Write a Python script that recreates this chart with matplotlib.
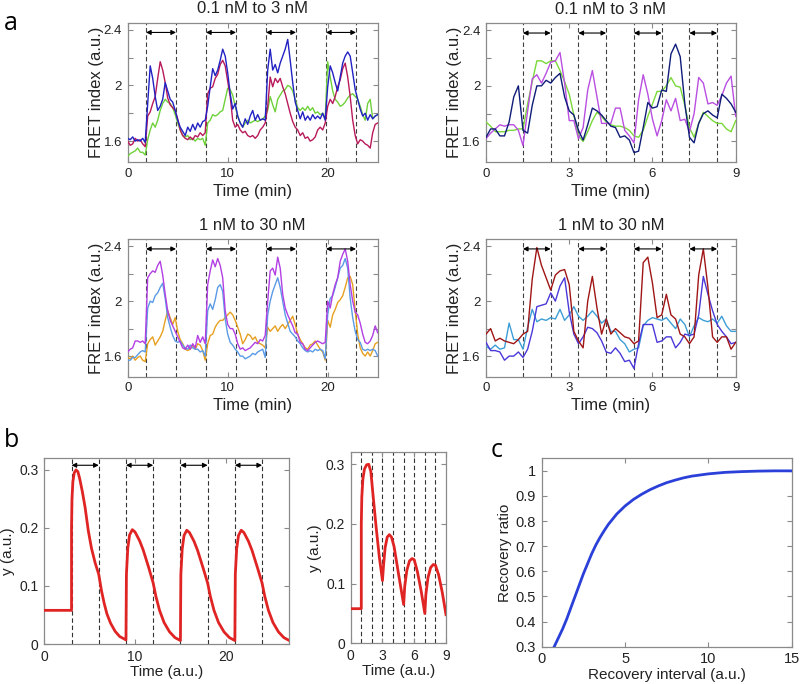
import numpy as np
import matplotlib
matplotlib.use("Agg")
import matplotlib.pyplot as plt

plt.rcParams['font.family'] = ['Liberation Sans', 'DejaVu Sans']

# ---------------- Data: panel a (left column, 0.25-min sampling) ----------------
t_long = np.arange(0, 25.001, 0.25)
pulse_long = [1.83, 7.83, 13.83, 19.83]   # pulse starts (min), width 3 min
pulse_long_w = 3.0

tl_blue = [1.62,1.61,1.63,1.60,1.61,1.60,1.62,1.59,
           1.87,2.14,2.05,1.92,1.82,1.85,1.90,2.02,1.96,1.90,1.88,1.82,1.75,1.70,1.67,1.64,1.70,1.67,1.72,1.68,1.73,1.70,1.74,1.75,
           1.85,1.99,2.12,2.07,2.11,2.18,2.26,2.21,2.09,1.94,1.83,1.87,1.78,1.73,1.70,1.76,1.72,1.78,1.82,1.75,1.79,1.75,1.76,1.75,
           2.11,2.26,2.11,2.15,2.09,2.16,2.21,2.26,2.33,2.18,2.02,1.88,1.82,1.76,1.81,1.75,1.78,1.75,1.79,1.76,1.78,1.76,1.80,1.75,
           1.99,2.14,2.09,2.02,1.96,2.06,2.16,2.21,2.24,2.21,2.09,1.97,1.90,1.83,1.78,1.80,1.75,1.79,1.76,1.78,1.79]
tl_crimson = [1.60,1.57,1.58,1.62,1.60,1.61,1.58,1.56,
              1.78,1.81,1.87,1.92,2.05,2.17,2.11,2.02,1.91,1.86,1.84,1.82,1.76,1.68,1.64,1.62,1.61,1.63,1.61,1.64,1.63,1.66,1.64,1.66,
              1.94,1.98,1.99,2.05,2.08,2.15,2.18,2.14,2.03,1.92,1.75,1.70,1.72,1.68,1.66,1.67,1.64,1.63,1.64,1.62,1.64,1.68,1.70,1.73,
              1.85,2.06,1.99,2.05,2.02,2.05,1.99,1.94,1.87,1.80,1.74,1.70,1.68,1.64,1.66,1.62,1.63,1.60,1.61,1.63,1.68,1.70,1.68,1.73,
              1.85,1.90,1.87,1.92,1.99,2.04,2.12,2.16,2.06,1.92,1.75,1.64,1.58,1.61,1.60,1.58,1.57,1.55,1.66,1.72,1.73]
tl_green = [1.49,1.51,1.52,1.53,1.55,1.52,1.52,1.50,
            1.61,1.68,1.73,1.70,1.75,1.82,1.87,1.90,1.88,1.87,1.84,1.79,1.73,1.68,1.64,1.63,1.64,1.61,1.62,1.60,1.62,1.61,1.62,1.57,
            1.73,1.75,1.79,1.78,1.79,1.81,1.82,1.90,1.98,1.97,1.93,1.85,1.78,1.73,1.70,1.73,1.75,1.73,1.74,1.75,1.74,1.75,1.76,1.78,
            1.82,1.92,1.86,1.81,1.90,1.93,1.96,1.97,2.00,1.99,1.96,1.90,1.84,1.82,1.84,1.82,1.85,1.82,1.84,1.80,1.81,1.79,1.80,1.76,
            2.17,2.06,1.96,1.90,1.88,1.85,1.86,1.88,1.91,1.93,1.94,1.92,1.90,1.85,1.79,1.75,1.87,1.90,1.76,1.78,1.79]

bl_purple = [1.63,1.65,1.66,1.71,1.71,1.70,1.71,1.69,
             2.17,2.20,2.22,2.21,2.26,2.29,2.19,2.05,1.93,1.86,1.82,1.78,1.74,1.70,1.66,1.65,1.68,1.65,1.69,1.66,1.75,1.70,1.74,1.69,
             2.12,2.22,2.30,2.25,2.31,2.26,2.17,1.93,1.83,1.80,1.80,1.76,1.69,1.65,1.66,1.64,1.65,1.66,1.68,1.70,1.69,1.72,1.71,1.75,
             2.00,2.22,2.24,2.19,2.32,2.24,2.05,1.95,1.90,1.86,1.82,1.77,1.76,1.70,1.69,1.65,1.64,1.66,1.68,1.70,1.71,1.70,1.69,1.70,
             2.00,1.95,2.05,2.12,2.17,2.29,2.34,2.38,2.29,2.12,2.00,1.92,1.90,1.84,1.76,1.70,1.69,1.71,1.75,1.82,1.77]
bl_lblue = [1.57,1.57,1.59,1.59,1.61,1.63,1.64,1.63,
            1.95,2.00,1.99,2.04,2.06,2.10,2.13,2.02,1.88,1.81,1.75,1.71,1.70,1.71,1.68,1.66,1.65,1.68,1.66,1.65,1.65,1.63,1.64,1.60,
            1.93,1.98,1.94,2.01,2.10,2.12,2.07,1.87,1.76,1.70,1.68,1.65,1.63,1.60,1.60,1.58,1.59,1.60,1.62,1.61,1.63,1.64,1.65,1.59,
            1.90,2.00,2.07,2.12,2.17,2.10,2.00,1.90,1.84,1.78,1.76,1.74,1.71,1.69,1.66,1.64,1.63,1.64,1.63,1.65,1.64,1.65,1.64,1.58,
            1.90,2.02,2.04,2.10,2.17,2.24,2.26,2.31,2.24,2.02,1.88,1.78,1.72,1.70,1.65,1.64,1.65,1.64,1.65,1.64,1.60]
bl_orange = [1.59,1.58,1.60,1.57,1.59,1.60,1.57,1.56,
             1.69,1.72,1.74,1.68,1.71,1.74,1.78,1.86,1.93,1.88,1.83,1.88,1.78,1.72,1.69,1.65,1.64,1.65,1.68,1.65,1.69,1.68,1.64,1.57,
             1.69,1.75,1.76,1.81,1.84,1.86,1.86,1.88,1.90,1.92,1.90,1.86,1.81,1.76,1.69,1.72,1.76,1.75,1.72,1.74,1.70,1.69,1.68,1.66,
             1.81,1.78,1.80,1.82,1.78,1.81,1.83,1.80,1.83,1.86,1.89,1.83,1.76,1.72,1.69,1.66,1.65,1.68,1.69,1.71,1.68,1.65,1.63,1.57,
             1.86,1.81,1.90,1.94,1.99,2.01,2.04,2.10,2.17,2.18,2.12,1.93,1.76,1.66,1.62,1.60,1.63,1.60,1.64,1.69,1.70]

# ---------------- Data: panel a (right column, 10-s sampling) ----------------
t_short = np.arange(55) / 6.0
pulse_short = [1.33, 3.33, 5.33, 7.33]    # pulse starts (min), width 1 min
pulse_short_w = 1.0

tr_navy = [1.63,1.69,1.69,1.64,1.64,1.74,1.92,2.00,1.68,1.66,1.86,2.00,2.00,2.04,2.02,2.06,2.09,1.92,1.82,1.79,
           1.68,1.61,1.72,1.84,1.82,1.79,1.75,1.71,1.70,1.63,1.64,1.61,1.52,1.53,1.70,1.88,1.84,1.85,1.97,1.96,
           2.23,2.30,2.21,1.87,1.63,1.59,1.73,1.80,1.82,1.79,1.77,1.94,1.91,1.87,1.81]
tr_green = [1.74,1.71,1.67,1.67,1.67,1.68,1.68,1.69,1.69,1.87,2.03,2.18,2.18,2.16,2.18,2.18,2.11,2.03,1.94,1.79,
            1.64,1.60,1.67,1.75,1.81,1.78,1.74,1.72,1.71,1.71,1.70,1.68,1.64,1.63,1.68,1.78,1.87,1.96,1.96,2.00,
            2.06,2.00,1.99,1.86,1.70,1.63,1.73,1.81,1.78,1.75,1.73,1.73,1.69,1.67,1.75]
tr_magenta = [1.62,1.66,1.69,1.72,1.71,1.72,1.72,1.68,1.57,1.82,2.05,2.08,2.02,2.09,2.17,2.18,2.24,2.02,1.75,1.75,
              1.62,1.70,1.97,2.11,1.92,1.73,1.73,1.73,1.84,1.84,1.68,1.64,1.59,1.90,2.08,1.94,1.76,1.64,1.75,1.90,
              1.82,1.91,1.75,1.76,1.67,1.80,2.06,2.02,1.87,1.88,1.86,1.93,2.02,2.07,1.78]

br_darkred = [1.76,1.80,1.71,1.73,1.71,1.70,1.69,1.72,1.76,1.78,2.16,2.39,2.26,2.17,2.08,2.19,2.22,2.23,2.12,1.78,
              1.71,1.66,2.00,2.18,1.95,1.76,1.87,1.76,1.80,1.77,1.74,1.73,1.69,1.71,2.28,2.32,2.13,1.88,1.90,2.05,
              1.90,1.87,1.76,1.74,1.69,1.74,2.19,2.38,2.10,1.74,1.70,1.74,1.74,1.65,1.70]
br_violet = [1.70,1.64,1.64,1.63,1.57,1.60,1.60,1.63,1.59,1.65,1.78,1.96,1.97,1.98,2.06,2.00,2.11,2.17,1.92,1.76,
             1.69,1.74,1.81,1.80,1.77,1.71,1.63,1.62,1.66,1.62,1.56,1.57,1.51,1.69,1.83,1.83,1.83,1.70,1.71,1.74,
             1.74,1.66,1.70,1.76,1.75,1.76,1.90,2.18,2.05,1.93,1.83,1.78,1.74,1.69,1.70]
br_sky = [1.67,1.65,1.68,1.65,1.66,1.84,1.72,1.72,1.65,1.81,1.94,1.85,1.87,1.86,1.88,1.87,1.94,1.86,1.90,1.96,
          1.89,1.86,1.89,1.93,1.89,1.84,1.87,1.78,1.78,1.72,1.69,1.63,1.65,1.66,1.82,1.86,1.88,1.87,1.86,1.88,
          1.84,1.80,1.87,1.83,1.74,1.82,1.88,1.86,1.85,1.87,1.84,1.89,1.82,1.78,1.78]

# ---------------- Data: panel b ----------------
tb1 = [0, 3.0, 3.0, 3.05, 3.15, 3.3, 3.5, 3.7, 3.9, 4.2, 4.5, 4.85, 5.2, 5.6, 6.0,
       6.3, 6.6, 6.9, 7.3, 7.8, 8.3, 9.0,
       9.0, 9.05, 9.2, 9.4, 9.7, 10.0, 10.5, 10.9, 11.5, 12.0,
       12.3, 12.7, 13.2, 13.8, 14.4, 15.0,
       15.0, 15.05, 15.2, 15.4, 15.7, 16.0, 16.5, 16.9, 17.5, 18.0,
       18.3, 18.7, 19.2, 19.8, 20.4, 21.0,
       21.0, 21.05, 21.2, 21.4, 21.7, 22.0, 22.5, 22.9, 23.5, 24.0,
       24.3, 24.7, 25.2, 25.8, 26.4, 27.0]
yb1 = [0.058, 0.058, 0.20, 0.25, 0.28, 0.295, 0.300, 0.297, 0.285, 0.262, 0.235, 0.195, 0.165, 0.140, 0.120,
       0.092, 0.070, 0.052, 0.036, 0.022, 0.013, 0.007,
       0.007, 0.12, 0.165, 0.188, 0.197, 0.193, 0.178, 0.162, 0.132, 0.105,
       0.082, 0.058, 0.037, 0.021, 0.011, 0.006,
       0.006, 0.12, 0.164, 0.187, 0.196, 0.192, 0.177, 0.161, 0.131, 0.105,
       0.082, 0.058, 0.037, 0.021, 0.011, 0.006,
       0.006, 0.12, 0.164, 0.187, 0.196, 0.192, 0.177, 0.161, 0.131, 0.105,
       0.082, 0.058, 0.037, 0.021, 0.011, 0.006]
pulse_b1 = [3, 9, 15, 21]
pulse_b1_w = 3.0

tb2 = [0, 1.0, 1.0, 1.05, 1.15, 1.3, 1.5, 1.7, 1.9, 2.1, 2.4, 2.7, 3.0,
       3.1, 3.25, 3.45, 3.65, 3.85, 4.1, 4.5, 5.0,
       5.1, 5.3, 5.55, 5.8, 6.0, 6.3, 6.65, 7.0,
       7.1, 7.3, 7.55, 7.8, 8.0, 8.3, 8.65, 9.0]
yb2 = [0.058, 0.058, 0.20, 0.245, 0.275, 0.292, 0.299, 0.300, 0.288, 0.250, 0.195, 0.145, 0.105,
       0.130, 0.160, 0.178, 0.182, 0.178, 0.162, 0.118, 0.065,
       0.095, 0.122, 0.138, 0.142, 0.140, 0.120, 0.088, 0.050,
       0.082, 0.110, 0.127, 0.132, 0.131, 0.115, 0.085, 0.048]
dash_b2 = [1, 2, 3, 4, 5, 6, 7, 8]

# ---------------- Data: panel c ----------------
xc = [0.75, 1.0, 1.25, 1.5, 1.75, 2.0, 2.25, 2.5, 2.75, 3.0, 3.25, 3.5, 3.75, 4.0, 4.5, 5.0, 5.5,
      6.0, 6.5, 7.0, 7.5, 8.0, 8.5, 9.0, 10.0, 11.0, 12.0, 13.0, 14.0, 15.0]
yc = [0.30, 0.335, 0.37, 0.41, 0.455, 0.50, 0.545, 0.59, 0.63, 0.67, 0.705, 0.735, 0.762, 0.787, 0.828, 0.86, 0.886,
      0.907, 0.925, 0.94, 0.953, 0.963, 0.972, 0.979, 0.988, 0.994, 0.997, 0.999, 1.0, 1.0]

# ---------------- Figure ----------------
W, H = 802, 684
fig = plt.figure(figsize=(W / 100, H / 100), dpi=100)

def box(l, t, r, b):
    return [l / W, 1 - b / H, (r - l) / W, (b - t) / H]

SPINE = '#8a8a8a'
TXT = '#222222'

def style(ax, fs=9.5):
    for s in ax.spines.values():
        s.set_color(SPINE)
        s.set_linewidth(0.9)
    ax.tick_params(direction='in', top=True, right=True, length=3.5, width=0.8,
                   color=SPINE, labelcolor=TXT, labelsize=fs, pad=4)

def dashes(ax, xs, color='0.25'):
    for x in xs:
        ax.axvline(x, color=color, lw=0.8, ls=(0, (4, 2.5)), zorder=1)

def arrows(ax, starts, w, y):
    for s in starts:
        ax.annotate('', xy=(s + w, y), xytext=(s, y),
                    arrowprops=dict(arrowstyle='<|-|>', color='k', lw=0.8,
                                    mutation_scale=7, shrinkA=0, shrinkB=0),
                    zorder=5)

def panel_a(rect, t, series, colors, starts, w, xlim, xticks, title, xlabel=True):
    ax = fig.add_axes(rect)
    edges = []
    for s in starts:
        edges += [s, s + w]
    dashes(ax, edges)
    for y, c in zip(series, colors):
        ax.plot(t, y, color=c, lw=1.0, zorder=3)
    arrows(ax, starts, w, 2.38)
    ax.set_xlim(*xlim)
    ax.set_ylim(1.45, 2.45)
    ax.set_xticks(xticks)
    ax.set_yticks([1.6, 1.8, 2.0, 2.2, 2.4])
    ax.set_yticklabels(['1.6', '', '2', '', '2.4'])
    style(ax, 9.5)
    ax.set_title(title, fontsize=12, color=TXT, pad=7)
    ax.set_ylabel('FRET index (a.u.)', fontsize=12, color=TXT, labelpad=0)
    if xlabel:
        ax.set_xlabel('Time (min)', fontsize=12, color=TXT, labelpad=3)
    return ax

c_tl = ['#6fd13a', '#b8195a', '#2222c4']
c_tr = ['#7ad83a', '#b94ee0', '#0f1c78']
c_bl = ['#e6a020', '#5a9ae6', '#b23fe3']
c_br = ['#3d9ed6', '#4a38d8', '#a01515']

panel_a(box(127.7, 22.7, 377.7, 162.0), t_long, [tl_green, tl_crimson, tl_blue], c_tl,
        pulse_long, pulse_long_w, (0, 25), [0, 10, 20], '0.1 nM to 3 nM')
panel_a(box(486.0, 23.3, 735.7, 162.3), t_short, [tr_green, tr_magenta, tr_navy], c_tr,
        pulse_short, pulse_short_w, (0, 9), [0, 3, 6, 9], '0.1 nM to 3 nM')
panel_a(box(127.7, 239.3, 377.7, 376.7), t_long, [bl_orange, bl_lblue, bl_purple], c_bl,
        pulse_long, pulse_long_w, (0, 25), [0, 10, 20], '1 nM to 30 nM')
panel_a(box(486.0, 239.3, 735.7, 376.7), t_short, [br_sky, br_violet, br_darkred], c_br,
        pulse_short, pulse_short_w, (0, 9), [0, 3, 6, 9], '1 nM to 30 nM')

# panel b left
ax = fig.add_axes(box(44.3, 458.3, 289.3, 644.0))
edges = []
for s in pulse_b1:
    edges += [s, s + pulse_b1_w]
dashes(ax, edges, color='0.2')
ax.plot(tb1, yb1, color='#e02424', lw=2.0, zorder=3)
arrows(ax, pulse_b1, pulse_b1_w, 0.308)
ax.set_xlim(0, 27)
ax.set_ylim(0, 0.32)
ax.set_xticks([0, 10, 20])
ax.set_yticks([0, 0.1, 0.2, 0.3])
ax.set_yticklabels(['0', '0.1', '0.2', '0.3'])
style(ax, 10)
ax.set_ylabel('y (a.u.)', fontsize=11, color=TXT, labelpad=3)
ax.set_xlabel('Time (a.u.)', fontsize=11, color=TXT, labelpad=1)

# panel b right
ax = fig.add_axes(box(350.7, 452.3, 446.0, 643.3))
dashes(ax, dash_b2, color='0.2')
ax.plot(tb2, yb2, color='#e02424', lw=2.0, zorder=3)
ax.set_xlim(0, 9)
ax.set_ylim(0, 0.32)
ax.set_xticks([0, 3, 6, 9])
ax.set_yticks([0, 0.1, 0.2, 0.3])
ax.set_yticklabels(['0', '0.1', '0.2', '0.3'])
style(ax, 10)
ax.set_ylabel('y (a.u.)', fontsize=11, color=TXT, labelpad=3)
ax.set_xlabel('Time (a.u.)', fontsize=11, color=TXT, labelpad=1)

# panel c
ax = fig.add_axes(box(541.7, 458.3, 791.7, 646.7))
ax.plot(xc, yc, color='#2a40d8', lw=2.0, zorder=3)
ax.set_xlim(0, 15)
ax.set_ylim(0.3, 1.05)
ax.set_xticks([0, 5, 10, 15])
ax.set_yticks([0.3, 0.4, 0.5, 0.6, 0.7, 0.8, 0.9, 1.0])
ax.set_yticklabels(['0.3', '0.4', '0.5', '0.6', '0.7', '0.8', '0.9', '1'])
style(ax, 10.5)
ax.set_ylabel('Recovery ratio', fontsize=11, color=TXT, labelpad=3)
ax.set_xlabel('Recovery interval (a.u.)', fontsize=11, color=TXT, labelpad=1)

# panel letters
for lbl, x, y in [('a', 4, 30), ('b', 4, 447), ('c', 491, 457)]:
    fig.text(x / W, 1 - y / H, lbl, fontsize=18, family=['Open Sans', 'DejaVu Sans'],
             color='k', ha='left', va='baseline')

fig.savefig('out.png', dpi=100)
